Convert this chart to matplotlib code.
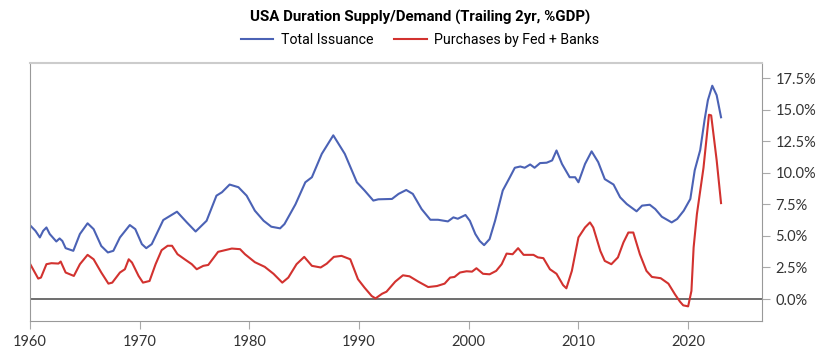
import matplotlib.pyplot as plt
import matplotlib.ticker as mticker

# Total issuance (trailing 2yr, %GDP)
blue_year = [1960.0, 1960.5, 1960.9, 1961.2, 1961.5, 1961.8, 1962.4, 1962.7, 1962.95, 1963.25,
             1963.95, 1964.55, 1965.25, 1965.8, 1966.5, 1967.1, 1967.6, 1968.2, 1969.1, 1969.6,
             1970.2, 1970.6, 1971.1, 1972.15, 1973.4, 1974.3, 1975.1, 1976.1, 1977.0, 1977.5,
             1978.2, 1979.0, 1979.75, 1980.5, 1981.3, 1982.0, 1982.8, 1983.2, 1984.2, 1985.1,
             1985.7, 1986.6, 1987.65, 1988.7, 1989.8, 1990.5, 1991.3, 1991.75, 1993.0, 1993.6,
             1994.3, 1994.9, 1995.7, 1996.5, 1997.2, 1998.1, 1998.6, 1999.0, 1999.7, 2000.1,
             2000.6, 2001.0, 2001.4, 2001.9, 2002.4, 2003.1, 2003.75, 2004.2, 2004.7, 2005.1,
             2005.6, 2006.0, 2006.5, 2007.1, 2007.6, 2008.0, 2008.5, 2009.2, 2009.7, 2010.0,
             2010.6, 2011.2, 2011.8, 2012.4, 2013.2, 2013.8, 2014.4, 2015.3, 2015.8, 2016.5,
             2017.0, 2017.6, 2018.5, 2019.0, 2019.6, 2020.2, 2020.6, 2021.1, 2021.5, 2021.8,
             2022.2, 2022.6, 2023.0]
blue_val = [5.85, 5.4, 4.88, 5.4, 5.67, 5.15, 4.56, 4.8, 4.6, 4.03,
            3.82, 5.15, 6.0, 5.54, 4.2, 3.69, 3.82, 4.88, 5.86, 5.54,
            4.35, 4.03, 4.35, 6.26, 6.92, 6.07, 5.35, 6.2, 8.19, 8.46,
            9.07, 8.86, 8.19, 7.0, 6.2, 5.73, 5.6, 5.94, 7.5, 9.25,
            9.65, 11.5, 12.97, 11.5, 9.25, 8.6, 7.8, 7.9, 7.93, 8.33,
            8.64, 8.33, 7.13, 6.28, 6.28, 6.15, 6.47, 6.36, 6.66, 6.2,
            5.15, 4.6, 4.27, 4.75, 6.2, 8.6, 9.65, 10.4, 10.5, 10.4,
            10.66, 10.4, 10.77, 10.8, 10.98, 11.77, 10.7, 9.65, 9.65, 9.25,
            10.7, 11.7, 10.85, 9.5, 9.07, 8.06, 7.53, 6.95, 7.4, 7.47,
            7.13, 6.52, 6.07, 6.34, 7.0, 7.93, 10.2, 11.8, 14.2, 15.75,
            16.9, 16.15, 14.4]

# Purchases by Fed + Banks (trailing 2yr, %GDP)
red_year = [1960.0, 1960.75, 1961.0, 1961.5, 1961.95, 1962.6, 1962.8, 1963.25, 1964.0, 1964.55,
            1965.25, 1965.8, 1966.5, 1967.15, 1967.5, 1968.2, 1968.65, 1969.0, 1969.3, 1969.9,
            1970.3, 1970.9, 1971.45, 1972.0, 1972.55, 1972.95, 1973.45, 1974.1, 1974.75, 1975.2,
            1975.8, 1976.25, 1977.15, 1978.4, 1979.15, 1979.6, 1980.5, 1981.4, 1982.2, 1983.0,
            1983.55, 1984.3, 1985.0, 1985.7, 1986.5, 1987.05, 1987.7, 1988.4, 1989.2, 1989.9,
            1990.5, 1991.15, 1991.5, 1992.1, 1992.5, 1993.3, 1994.0, 1994.6, 1995.4, 1996.3,
            1997.1, 1997.8, 1998.3, 1998.7, 1999.2, 1999.8, 2000.3, 2000.7, 2001.3, 2001.9,
            2002.5, 2003.0, 2003.45, 2004.0, 2004.5, 2005.0, 2005.9, 2006.3, 2006.8, 2007.4,
            2008.0, 2008.6, 2008.9, 2009.4, 2010.0, 2010.6, 2011.05, 2011.35, 2012.0, 2012.4,
            2013.0, 2013.6, 2014.1, 2014.55, 2015.0, 2015.6, 2016.2, 2016.7, 2017.5, 2018.2,
            2018.8, 2019.25, 2019.55, 2020.0, 2020.3, 2020.5, 2020.8, 2021.4, 2021.9, 2022.1,
            2022.6, 2023.0]
red_val = [2.8, 1.62, 1.7, 2.76, 2.84, 2.81, 2.97, 2.1, 1.83, 2.76,
           3.5, 3.15, 2.1, 1.22, 1.3, 2.1, 2.36, 3.15, 2.89, 1.83,
           1.3, 1.43, 2.76, 3.87, 4.22, 4.22, 3.55, 3.15, 2.76, 2.36,
           2.63, 2.7, 3.74, 4.0, 3.95, 3.55, 2.92, 2.55, 2.0, 1.3,
           1.7, 2.76, 3.34, 2.63, 2.5, 2.8, 3.34, 3.42, 3.15, 1.57,
           0.9, 0.24, 0.05, 0.42, 0.58, 1.38, 1.88, 1.8, 1.38, 0.95,
           1.03, 1.22, 1.7, 1.75, 2.1, 2.2, 2.17, 2.44, 2.0, 1.96,
           2.23, 2.76, 3.6, 3.55, 4.03, 3.5, 3.5, 3.3, 3.24, 2.36,
           2.0, 1.1, 0.85, 2.23, 4.88, 5.67, 6.07, 5.67, 3.8, 3.02,
           2.76, 3.3, 4.48, 5.27, 5.27, 3.55, 2.23, 1.75, 1.65, 1.22,
           0.37, -0.2, -0.5, -0.58, 0.64, 4.08, 6.73, 10.4, 14.6, 14.55,
           11.0, 7.6]

yticks = [0, 2.5, 5, 7.5, 10, 12.5, 15, 17.5]
xticks = [1960, 1970, 1980, 1990, 2000, 2010, 2020]

NARROW = ['Roboto', 'DejaVu Sans']
plt.rc('font', family=['Lato', 'DejaVu Sans'])

fig = plt.figure(figsize=(8.4, 3.6), dpi=100)
ax = fig.add_axes([0.0357, 0.108, 0.871, 0.717])

ax.plot(blue_year, blue_val, color='#4B62B5', lw=1.5, label='Total Issuance')
ax.plot(red_year, red_val, color='#D2322F', lw=1.5, label='Purchases by Fed + Banks')
ax.axhline(0, color='#555555', lw=1.2, zorder=1)

ax.set_xlim(1960, 2026.7)
ax.set_ylim(-1.75, 18.7)
ax.set_xticks(xticks)
ax.set_yticks(yticks)
ax.yaxis.set_major_formatter(mticker.FuncFormatter(lambda v, p: '{:.1f}%'.format(v)))
ax.yaxis.tick_right()
ax.tick_params(axis='y', length=6, color='#aaaaaa', labelsize=10.5, labelcolor='#333333', pad=4)
ax.tick_params(axis='x', length=6, color='#aaaaaa', labelsize=10.5, labelcolor='#333333', pad=4)

for s in ['left', 'right', 'bottom']:
  ax.spines[s].set_color('#999999')
ax.spines['top'].set_color('#cccccc')
ax.spines['top'].set_linewidth(1.5)

fig.suptitle('USA Duration Supply/Demand (Trailing 2yr, %GDP)', fontsize=10.8,
             fontweight='bold', y=0.972, family=NARROW)
fig.legend(loc='upper center', bbox_to_anchor=(0.5, 0.925), ncol=2, frameon=False,
           prop={'family': NARROW, 'size': 10.2}, handlelength=2.3, columnspacing=1.5,
           handletextpad=0.5, borderaxespad=0)

plt.savefig('out.png', dpi=100)
